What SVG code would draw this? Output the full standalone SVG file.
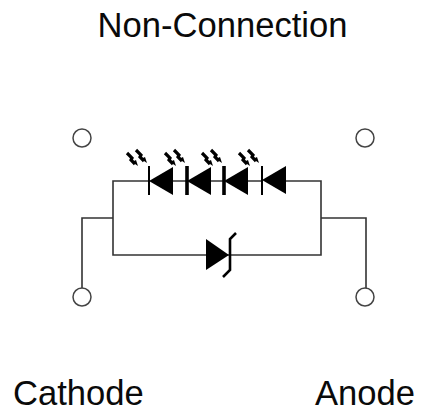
<svg xmlns="http://www.w3.org/2000/svg" width="422" height="411" viewBox="0 0 422 411">
<style>
.w{fill:none;stroke:#333;stroke-width:1.6}
.t{fill:none;stroke:#444;stroke-width:1.5}
.b{fill:none;stroke:#000;stroke-width:2}
.h{fill:none;stroke:#000;stroke-width:3.600}
.z{fill:none;stroke:#000;stroke-width:2.600}
.g{fill:none;stroke:#000;stroke-width:3.200}
.f{fill:#000;stroke:none}
.l{font-family:"Liberation Sans",Arial,sans-serif;font-size:34.600px;fill:#0a0a0a}
</style>
<defs>
<g id="glow"><path class="g" d="M0 0L5 5L4 7L8 11M9-3L14 2L13 4L17 8"/><path class="f" d="M5 9L11 13L9 7ZM14 6L20 10L18 4Z"/></g>
<path id="tri" class="f" d="M0 0L24-14V14Z"/>
</defs>
<rect width="422" height="411" fill="#fff"/>
<g id="connectors">
<path class="w" d="M113 218V181H149M173 181H187M211 181H224M248 181H262M285 181H321V255H113V218H82V288M321 218H366V288M113 255H206M228 255H240"/>
</g>
<g id="pin-nc-left"><circle class="t" cx="82" cy="138" r="9"/></g>
<g id="pin-nc-right"><circle class="t" cx="365" cy="138" r="9"/></g>
<g id="pin-cathode"><circle class="t" cx="82" cy="297" r="9"/></g>
<g id="pin-anode"><circle class="t" cx="365" cy="297" r="9"/></g>
<g id="led1"><path class="b" d="M149 166V195"/><use href="#tri" x="149" y="181"/><use href="#glow" x="127" y="153"/></g>
<g id="led2"><path class="h" d="M187 166V195"/><use href="#tri" x="187" y="181"/><use href="#glow" x="165" y="153"/></g>
<g id="led3"><path class="h" d="M224 166V195"/><use href="#tri" x="224" y="181"/><use href="#glow" x="202" y="153"/></g>
<g id="led4"><path class="b" d="M262 166V195"/><use href="#tri" x="262" y="180"/><use href="#glow" x="239" y="153"/></g>
<g id="zener"><path class="f" d="M206 239L229 255L206 270Z"/><path class="z" d="M236 233L230 239V270L223 277"/></g>
<g id="label-title"><text class="l" x="222.500" y="37" text-anchor="middle">Non-Connection</text></g>
<g id="label-cathode"><text class="l" x="13" y="405">Cathode</text></g>
<g id="label-anode"><text class="l" x="315" y="405">Anode</text></g>
</svg>
